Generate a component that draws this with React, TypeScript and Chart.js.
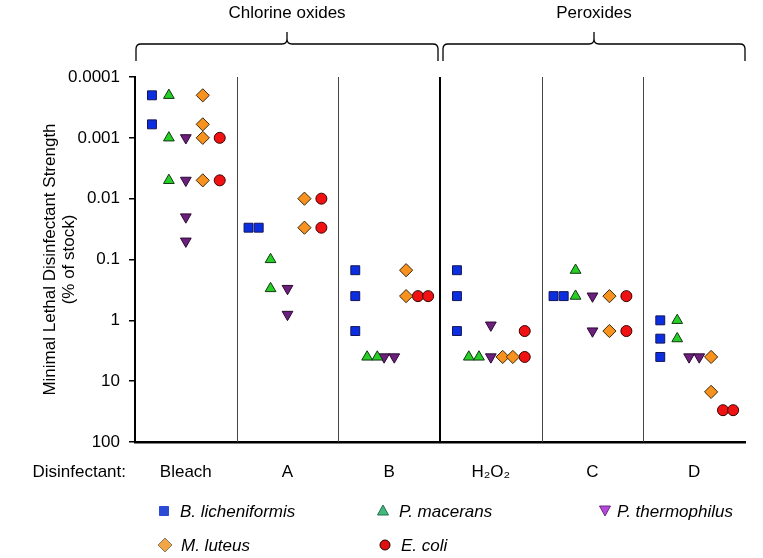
import React, { useEffect, useRef } from 'react';
import { Chart, registerables } from 'chart.js';

Chart.register(...registerables);

const FONT = '"Liberation Sans", Arial, Helvetica, sans-serif';

const categories = ['Bleach', 'A', 'B', 'H₂O₂', 'C', 'D'];
const groupNames = ['Chlorine oxides', 'Peroxides'];
const groupStart = [0, 3];
const groupEnd = [2, 5];
const yTickValues = [0.0001, 0.001, 0.01, 0.1, 1, 10, 100];
const yTickLabels = ['0.0001', '0.001', '0.01', '0.1', '1', '10', '100'];
const yTitleLines = ['Minimal Lethal Disinfectant Strength', '(% of stock)'];
const xAxisName = 'Disinfectant:';

const speciesNames = ['B. licheniformis', 'P. macerans', 'P. thermophilus', 'M. luteus', 'E. coli'];

// values per category (Bleach, A, B, H2O2, C, D), % of stock
const bLicheniformis = [[0.0002, 0.0006], [0.03, 0.03], [0.15, 0.4, 1.5], [0.15, 0.4, 1.5], [0.4, 0.4], [1, 2, 4]];
const pMacerans = [[0.0002, 0.001, 0.005], [0.1, 0.3], [4, 4], [4, 4], [0.15, 0.4], [1, 2]];
const pThermophilus = [[0.001, 0.005, 0.02, 0.05], [0.3, 0.8], [4, 4], [1.2, 4], [0.4, 1.5], [4, 4]];
const mLuteus = [[0.0002, 0.0006, 0.001, 0.005], [0.01, 0.03], [0.15, 0.4], [4, 4], [0.4, 1.5], [4, 15]];
const eColi = [[0.001, 0.005], [0.01, 0.03], [0.4, 0.4], [1.5, 4], [0.4, 1.5], [30, 30]];

const speciesValues = [bLicheniformis, pMacerans, pThermophilus, mLuteus, eColi];

const markerStyles = [
  { pointStyle: 'rect', radius: 6.3, rotation: 0, bg: '#0b2fe0', border: '#14145a' },
  { pointStyle: 'triangle', radius: 6.2, rotation: 0, bg: '#25cf25', border: '#123812' },
  { pointStyle: 'triangle', radius: 6.2, rotation: 180, bg: '#6c1f7c', border: '#2a0a30' },
  { pointStyle: 'rectRot', radius: 6.6, rotation: 0, bg: '#f7921e', border: '#3a2a10' },
  { pointStyle: 'circle', radius: 5.5, rotation: 0, bg: '#f01212', border: '#3a0000' },
];

const legendStyles = [
  { shape: 'square', fill: '#2b4bd6', stroke: '#2b4bd6' },
  { shape: 'up', fill: '#3dba7c', stroke: '#2a6a50' },
  { shape: 'down', fill: '#b548da', stroke: '#6a2a80' },
  { shape: 'diamond', fill: '#f2a544', stroke: '#8a7a68' },
  { shape: 'circle', fill: '#e01010', stroke: '#1a0000' },
];
// legend layout (slot per species)
const legendSlots = [
  { x: 164, y: 511 },
  { x: 383, y: 511 },
  { x: 605, y: 511 },
  { x: 165, y: 545 },
  { x: 385, y: 545 },
];

function buildPoints(values: number[][], speciesIndex: number) {
  const offset = (speciesIndex - 2) / 6;
  const pts: { x: number; y: number }[] = [];
  values.forEach((vals, ci) => {
    const counts: Record<string, number> = {};
    vals.forEach((v) => (counts[String(v)] = (counts[String(v)] || 0) + 1));
    const seen: Record<string, number> = {};
    vals.forEach((v) => {
      const key = String(v);
      const n = counts[key];
      const k = seen[key] || 0;
      seen[key] = k + 1;
      const dup = (k - (n - 1) / 2) * 0.1;
      pts.push({ x: ci + offset + dup, y: v });
    });
  });
  return pts;
}

const decorPlugin = {
  id: 'decor',
  beforeDatasetsDraw(chart: any) {
    const { ctx, chartArea, scales } = chart;
    const xs = scales.x;
    ctx.save();
    for (let i = 0; i < categories.length - 1; i++) {
      const x = xs.getPixelForValue(i + 0.5);
      const thick = i === 2;
      ctx.beginPath();
      ctx.strokeStyle = thick ? '#000' : '#444';
      ctx.lineWidth = thick ? 2 : 1;
      ctx.moveTo(Math.round(x) + (thick ? 0 : 0.5), chartArea.top);
      ctx.lineTo(Math.round(x) + (thick ? 0 : 0.5), chartArea.bottom);
      ctx.stroke();
    }
    ctx.restore();
  },
  afterDraw(chart: any) {
    const { ctx, chartArea, scales } = chart;
    const xs = scales.x;
    ctx.save();
    // braces and group titles
    for (let g = 0; g < groupNames.length; g++) {
      const x0 = xs.getPixelForValue(groupStart[g] - 0.5) + (g === 0 ? 1 : 3);
      const x1 = xs.getPixelForValue(groupEnd[g] + 0.5) - (g === 0 ? 2 : 0);
      const xm = (x0 + x1) / 2;
      const yl = 44;
      const ye = 61;
      const yt = 32;
      const r = 5;
      ctx.beginPath();
      ctx.strokeStyle = '#000';
      ctx.lineWidth = 1.3;
      ctx.moveTo(x0, ye);
      ctx.lineTo(x0, yl + r);
      ctx.quadraticCurveTo(x0, yl, x0 + r, yl);
      ctx.lineTo(xm - r, yl);
      ctx.quadraticCurveTo(xm, yl, xm, yl - r);
      ctx.lineTo(xm, yt);
      ctx.moveTo(xm, yl - r);
      ctx.quadraticCurveTo(xm, yl, xm + r, yl);
      ctx.lineTo(x1 - r, yl);
      ctx.quadraticCurveTo(x1, yl, x1, yl + r);
      ctx.lineTo(x1, ye);
      ctx.stroke();
      ctx.fillStyle = '#000';
      ctx.font = `17px ${FONT}`;
      ctx.textAlign = 'center';
      ctx.textBaseline = 'middle';
      ctx.fillText(groupNames[g], xm, 13);
    }
    // y title
    ctx.save();
    ctx.translate(50, (chartArea.top + chartArea.bottom) / 2);
    ctx.rotate(-Math.PI / 2);
    ctx.fillStyle = '#000';
    ctx.font = `17px ${FONT}`;
    ctx.textAlign = 'center';
    ctx.textBaseline = 'middle';
    ctx.fillText(yTitleLines[0], 0, 0);
    ctx.fillText(yTitleLines[1], 0, 19);
    ctx.restore();
    // x axis name
    ctx.fillStyle = '#000';
    ctx.font = `17px ${FONT}`;
    ctx.textAlign = 'right';
    ctx.textBaseline = 'middle';
    ctx.fillText(xAxisName, 126, 472);
    // legend
    for (let s = 0; s < speciesNames.length; s++) {
      const { x, y } = legendSlots[s];
      const st = legendStyles[s];
      ctx.beginPath();
      ctx.fillStyle = st.fill;
      ctx.strokeStyle = st.stroke;
      ctx.lineWidth = 1;
      if (st.shape === 'square') {
        ctx.rect(x - 4.5, y - 4.5, 9, 9);
      } else if (st.shape === 'up') {
        ctx.moveTo(x, y - 6);
        ctx.lineTo(x + 5.5, y + 4);
        ctx.lineTo(x - 5.5, y + 4);
        ctx.closePath();
      } else if (st.shape === 'down') {
        ctx.moveTo(x - 5.5, y - 5);
        ctx.lineTo(x + 5.5, y - 5);
        ctx.lineTo(x, y + 5);
        ctx.closePath();
      } else if (st.shape === 'diamond') {
        ctx.moveTo(x, y - 7);
        ctx.lineTo(x + 7, y);
        ctx.lineTo(x, y + 7);
        ctx.lineTo(x - 7, y);
        ctx.closePath();
      } else {
        ctx.arc(x, y, 5, 0, Math.PI * 2);
      }
      ctx.fill();
      ctx.stroke();
      ctx.fillStyle = '#000';
      ctx.font = `italic 17px ${FONT}`;
      ctx.textAlign = 'left';
      ctx.textBaseline = 'middle';
      ctx.fillText(speciesNames[s], x + (s === 2 ? 12 : 16), y + 1);
    }
    ctx.restore();
  },
};

export default function App() {
  const canvasRef = useRef<HTMLCanvasElement | null>(null);

  useEffect(() => {
    const canvas = canvasRef.current;
    if (!canvas) return;
    const datasets = speciesValues.map((vals, si) => {
      const m = markerStyles[si];
      return {
        label: speciesNames[si],
        data: buildPoints(vals, si),
        pointStyle: m.pointStyle as any,
        pointRadius: m.radius,
        pointRotation: m.rotation,
        backgroundColor: m.bg,
        borderColor: m.border,
        borderWidth: 1,
        showLine: false,
      };
    });
    const chart = new Chart(canvas, {
      type: 'scatter',
      data: { datasets },
      options: {
        animation: false,
        responsive: false,
        maintainAspectRatio: false,
        layout: { padding: { left: 0, top: 77, right: 18, bottom: 0 } },
        plugins: { legend: { display: false }, tooltip: { enabled: false } },
        scales: {
          x: {
            type: 'linear',
            min: -0.5,
            max: 5.5,
            afterFit: (s: any) => {
              s.height = 116;
            },
            afterBuildTicks: (s: any) => {
              s.ticks = categories.map((_, i) => ({ value: i }));
            },
            ticks: {
              callback: (v: any) => categories[Math.round(Number(v))] ?? '',
              padding: 20,
              color: '#000',
              font: { size: 17, family: FONT },
              autoSkip: false,
              maxRotation: 0,
            },
            grid: { display: false, drawTicks: false },
            border: { display: true, color: '#000', width: 2.5 },
          },
          y: {
            type: 'logarithmic',
            reverse: true,
            min: 0.0001,
            max: 100,
            afterFit: (s: any) => {
              s.width = 135;
            },
            afterBuildTicks: (s: any) => {
              s.ticks = yTickValues.map((v) => ({ value: v }));
            },
            ticks: {
              callback: (_v: any, i: number) => yTickLabels[i],
              padding: 9,
              color: '#000',
              font: { size: 17, family: FONT },
              autoSkip: false,
            },
            grid: { drawOnChartArea: false, drawTicks: true, tickLength: 6, color: '#000', lineWidth: 1.5 },
            border: { display: true, color: '#000', width: 2 },
          },
        },
      },
      plugins: [decorPlugin],
    } as any);
    return () => chart.destroy();
  }, []);

  return (
    <div style={{ position: 'fixed', left: 0, top: 0, width: 763, height: 558, background: '#fff' }}>
      <canvas ref={canvasRef} width={763} height={558} style={{ display: 'block' }} />
    </div>
  );
}
